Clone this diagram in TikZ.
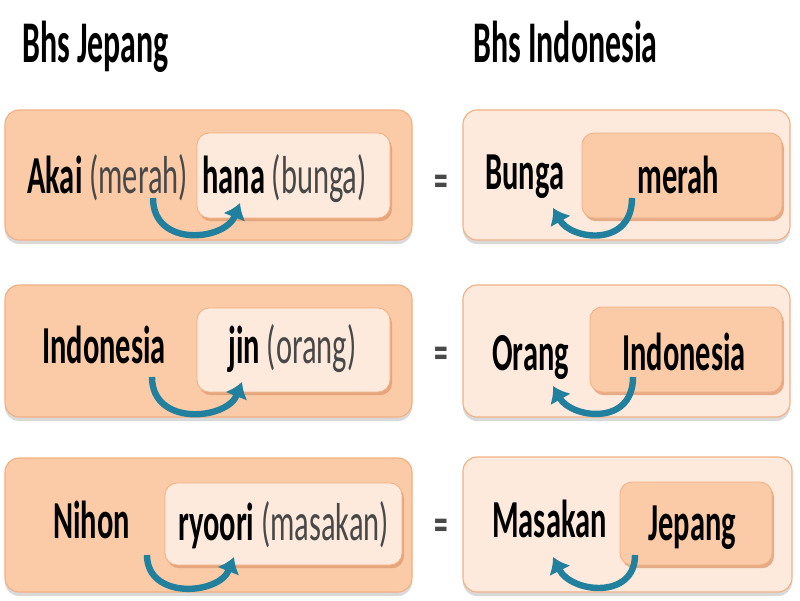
\documentclass[tikz,border=0pt]{standalone}
\usepackage{fontspec}
\setmainfont{Carlito}
\newfontfamily\rowfont[FakeStretch=0.57]{Carlito}
\newfontfamily\headfont[FakeStretch=0.54]{Carlito}
\usetikzlibrary{arrows.meta,positioning,shadows,fit}
\definecolor{jpPeach} {RGB}{250,203,166}
\definecolor{jpLight} {RGB}{253,234,220}
\definecolor{jpEdge}  {RGB}{241,176,132}
\definecolor{jpShade} {RGB}{226,156,112}
\definecolor{jpTeal}  {RGB}{ 32,128,158}
\definecolor{jpGrey}  {RGB}{ 72, 72, 72}

\begin{document}
\begin{tikzpicture}[x=0.025cm,y=-0.025cm,
  every node/.style={font=\rowfont\fontsize{38}{40}\selectfont,inner sep=0pt},
  head/.style={font=\headfont\bfseries\fontsize{42}{44}\selectfont,anchor=base west},
  word/.style={anchor=base west},
  eq/.style={font=\rowfont\bfseries\fontsize{34}{36}\selectfont,jpGrey},
  outerbox/.style={draw=jpEdge,line width=0.8pt,rounded corners=0.35cm,
    drop shadow={shadow xshift=0cm,shadow yshift=-0.1cm,opacity=0.25,fill=black!60}},
  innerbox/.style={draw=jpEdge,line width=0.6pt,rounded corners=0.3cm,
    drop shadow={shadow xshift=0.05cm,shadow yshift=-0.08cm,opacity=0.8,fill=jpShade}},
  turn/.style={jpTeal,line width=0.16cm,-{Latex[width=0.6cm,length=0.38cm]}}
]
\useasboundingbox (0,0) rectangle (800,600);

\node[head] (hJ) at (22,62)  {Bhs Jepang};
\node[head] (hI) at (473,62) {Bhs Indonesia};

% boxes
\node[outerbox,fill=jpPeach,fit={(5,110) (412,240)}]   (bJ1) {};
\node[innerbox,fill=jpLight,fit={(197,133) (390,218)}] (iJ1) {};
\node[outerbox,fill=jpLight,fit={(463,110) (790,240)}] (bI1) {};
\node[innerbox,fill=jpPeach,fit={(582,133) (782,218)}] (iI1) {};

\node[outerbox,fill=jpPeach,fit={(5,285) (412,417)}]   (bJ2) {};
\node[innerbox,fill=jpLight,fit={(197,308) (390,392)}] (iJ2) {};
\node[outerbox,fill=jpLight,fit={(463,285) (790,417)}] (bI2) {};
\node[innerbox,fill=jpPeach,fit={(590,307) (782,392)}] (iI2) {};

\node[outerbox,fill=jpPeach,fit={(5,458) (412,592)}]   (bJ3) {};
\node[innerbox,fill=jpLight,fit={(165,483) (402,565)}] (iJ3) {};
\node[outerbox,fill=jpLight,fit={(463,457) (792,592)}] (bI3) {};
\node[innerbox,fill=jpPeach,fit={(620,482) (772,565)}] (iI3) {};

% words
\node[word] (akai)  at (27,193)  {\textbf{Akai} \textcolor{jpGrey}{(merah)}};
\node[word] (hana)  at (202,193) {\textbf{hana} \textcolor{jpGrey}{(bunga)}};
\node[word] (bunga) at (485,189) {\textbf{Bunga}};
\node[word] (merah) at (637,193) {\textbf{merah}};

\node[word] (indo)  at (42,363)  {\textbf{Indonesia}};
\node[word] (jin)   at (228,363) {\textbf{jin} \textcolor{jpGrey}{(orang)}};
\node[word] (orang) at (492,370) {\textbf{Orang}};
\node[word] (indoI) at (622,370) {\textbf{Indonesia}};

\node[word] (nihon)  at (53,538)  {\textbf{Nihon}};
\node[word] (ryoori) at (178,540) {\textbf{ryoori} \textcolor{jpGrey}{(masakan)}};
\node[word] (masak)  at (492,537) {\textbf{Masakan}};
\node[word] (jepang) at (648,540) {\textbf{Jepang}};

\node[eq] (eq1) at (441,186) {=};
\node[eq] (eq2) at (441,358) {=};
\node[eq] (eq3) at (441,530) {=};

% word-order arrows
\coordinate (aJ1s) at (153,198); \coordinate (aJ1e) at (240,203);
\coordinate (aI1s) at (632,198); \coordinate (aI1e) at (553,208);
\coordinate (aJ2s) at (152,377); \coordinate (aJ2e) at (242,382);
\coordinate (aI2s) at (633,377); \coordinate (aI2e) at (553,386);
\coordinate (aJ3s) at (147,555); \coordinate (aJ3e) at (234,557);
\coordinate (aI3s) at (635,555); \coordinate (aI3e) at (553,557);

\draw[turn] (aJ1s) .. controls +(0,50) and +(-15,38) .. (aJ1e);
\draw[turn] (aI1s) .. controls +(0,50) and +(18,32) .. (aI1e);
\draw[turn] (aJ2s) .. controls +(0,50) and +(-15,38) .. (aJ2e);
\draw[turn] (aI2s) .. controls +(0,50) and +(18,32) .. (aI2e);
\draw[turn] (aJ3s) .. controls +(0,45) and +(-15,38) .. (aJ3e);
\draw[turn] (aI3s) .. controls +(0,45) and +(18,36) .. (aI3e);
\end{tikzpicture}
\end{document}
